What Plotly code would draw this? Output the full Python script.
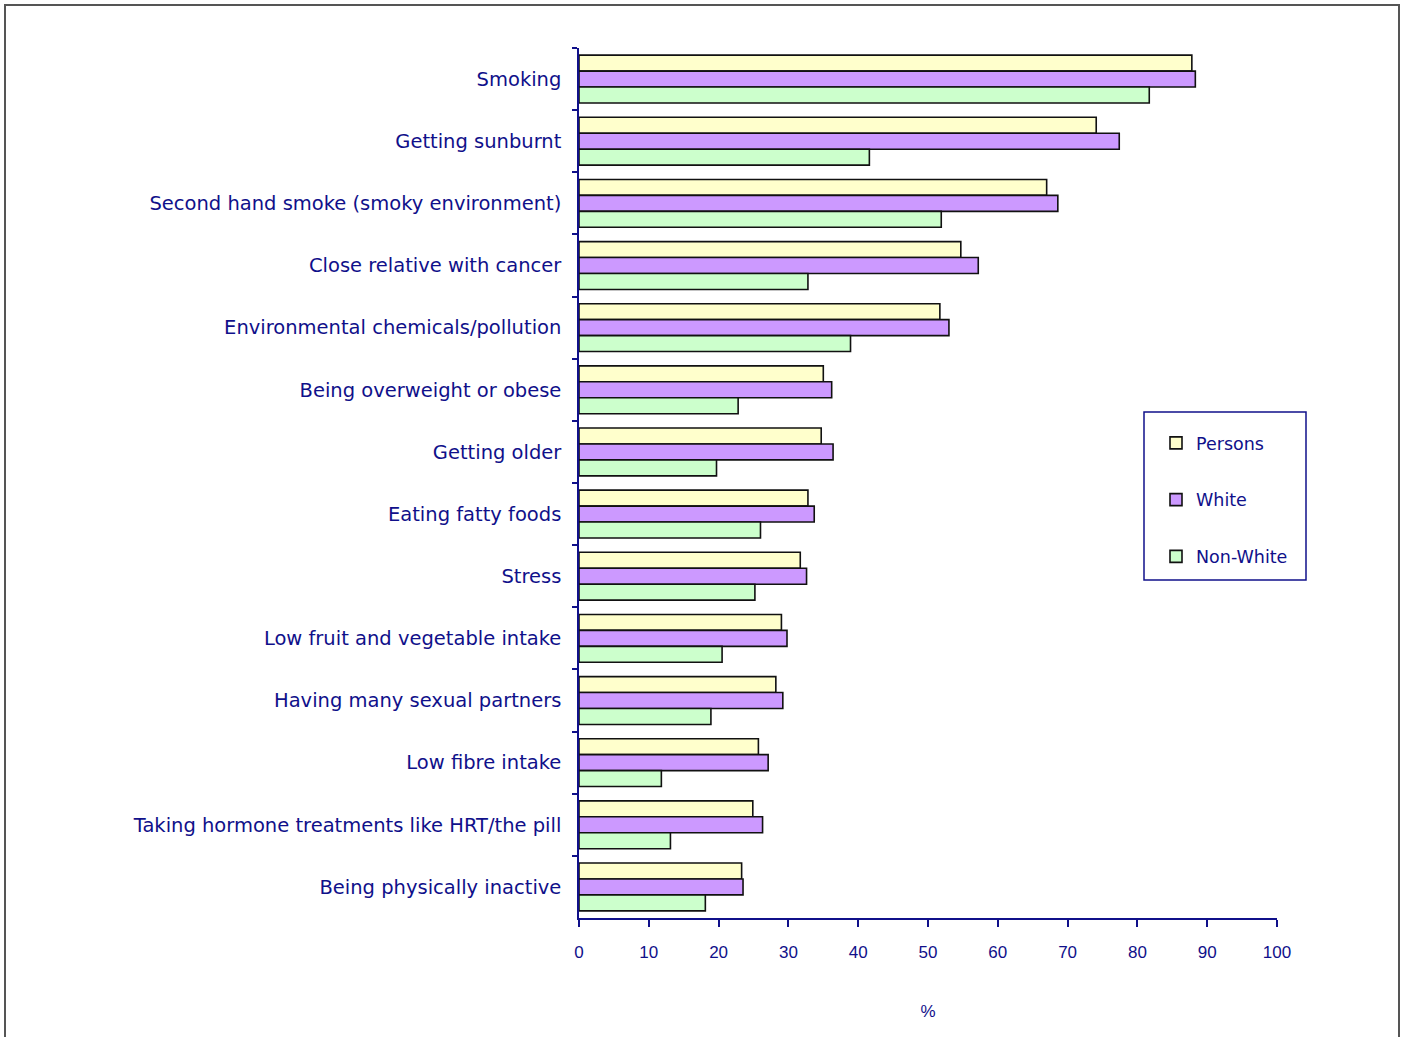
import plotly.graph_objects as go

categories = [
    "Smoking",
    "Getting sunburnt",
    "Second hand smoke (smoky environment)",
    "Close relative with cancer",
    "Environmental chemicals/pollution",
    "Being overweight or obese",
    "Getting older",
    "Eating fatty foods",
    "Stress",
    "Low fruit and vegetable intake",
    "Having many sexual partners",
    "Low fibre intake",
    "Taking hormone treatments like HRT/the pill",
    "Being physically inactive",
]

persons = [87.8, 74.1, 67.0, 54.7, 51.7, 35.0, 34.7, 32.8, 31.7, 29.0, 28.2, 25.7, 24.9, 23.3]
white = [88.3, 77.4, 68.6, 57.2, 53.0, 36.2, 36.4, 33.7, 32.6, 29.8, 29.2, 27.1, 26.3, 23.5]
non_white = [81.7, 41.6, 51.9, 32.8, 38.9, 22.8, 19.7, 26.0, 25.2, 20.5, 18.9, 11.8, 13.1, 18.1]

x_ticks = list(range(0, 101, 10))

NAVY = "#10108a"
series = [
    ("Persons", persons, "#FFFFCC"),
    ("White", white, "#CC99FF"),
    ("Non-White", non_white, "#CCFFCC"),
]

fig = go.Figure()
for name, vals, col in series:
    fig.add_trace(go.Bar(
        name=name,
        x=vals,
        y=categories,
        orientation="h",
        legendgroup=name,
        marker=dict(color=col, line=dict(color="#111111", width=1.6)),
    ))

W, H = 1404, 1037
L, R, T, B = 579, 127, 48, 119
pw, ph = W - L - R, H - T - B


def px_x(p):
    return (p - L) / pw


def px_y(p):
    return (H - B - p) / ph


fig.update_layout(
    width=W,
    height=H,
    margin=dict(l=L, r=R, t=T, b=B, pad=0),
    paper_bgcolor="white",
    plot_bgcolor="white",
    barmode="group",
    bargap=0.23,
    bargroupgap=0,
    font=dict(family="DejaVu Sans", color=NAVY),
    showlegend=True,
    legend=dict(
        x=px_x(1156),
        y=px_y(425),
        xanchor="left",
        yanchor="top",
        bgcolor="rgba(0,0,0,0)",
        borderwidth=0,
        traceorder="grouped",
        tracegroupgap=31,
        itemwidth=30,
        font=dict(family="DejaVu Sans", size=17.5, color=NAVY),
    ),
    shapes=[
        # outer frame of the chart
        dict(type="rect", xref="paper", yref="paper",
             x0=px_x(5), x1=px_x(1399), y0=px_y(1045), y1=px_y(5),
             line=dict(color="#555555", width=2), layer="below"),
        # legend box
        dict(type="rect", xref="paper", yref="paper",
             x0=px_x(1144), x1=px_x(1306), y0=px_y(580), y1=px_y(412),
             line=dict(color=NAVY, width=1.5), fillcolor="white", layer="below"),
    ],
)

fig.update_xaxes(
    range=[0, 100],
    tickvals=x_ticks,
    ticktext=[str(v) for v in x_ticks],
    showgrid=False,
    zeroline=False,
    showline=True,
    linecolor=NAVY,
    linewidth=1.5,
    ticks="outside",
    ticklen=7,
    tickwidth=1.5,
    tickcolor=NAVY,
    ticklabelstandoff=11,
    tickfont=dict(family="Liberation Sans", size=17, color=NAVY),
    title=dict(text="%", standoff=44,
               font=dict(family="Liberation Sans", size=17, color=NAVY)),
)

fig.update_yaxes(
    type="category",
    categoryorder="array",
    categoryarray=categories,
    range=[len(categories) - 0.5, -0.5],
    showgrid=False,
    zeroline=False,
    showline=True,
    linecolor=NAVY,
    linewidth=1.5,
    ticks="outside",
    tickson="boundaries",
    ticklen=5,
    tickwidth=1.5,
    tickcolor=NAVY,
    ticklabelstandoff=12,
    tickfont=dict(family="DejaVu Sans", size=19.5, color=NAVY),
)

fig.write_html("out.html")
